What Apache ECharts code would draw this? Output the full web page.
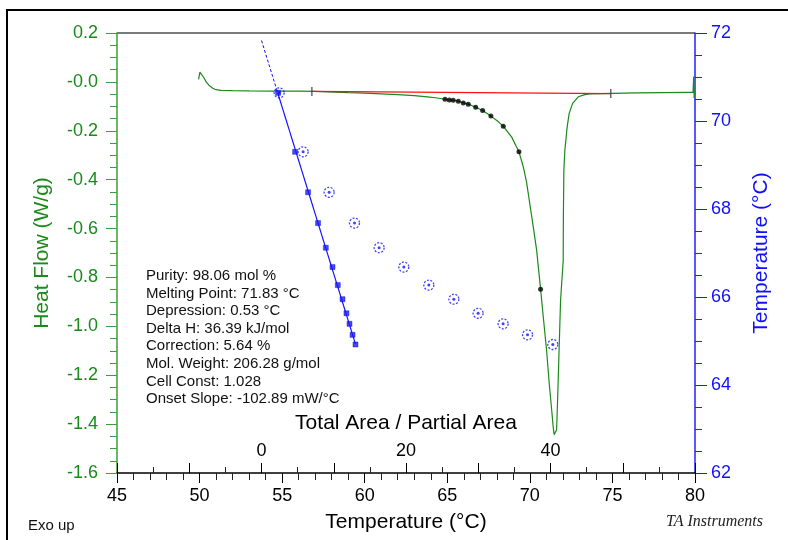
<!DOCTYPE html>
<html>
<head>
<meta charset="utf-8">
<script src="https://cdn.jsdelivr.net/npm/echarts@6/dist/echarts.min.js"></script>
<style>
  html, body { margin: 0; padding: 0; background: #fff; }
  #chart { width: 788px; height: 540px; }
</style>
</head>
<body>
<div id="chart"></div>
<script>
// DSC 纯度分析曲线 (热流 + 1/F 图)

// 热流曲线 [温度 °C, 热流 W/g]
const heatFlowCurve = [
  [49.94, 0.010], [50.02, 0.040], [50.08, 0.045], [50.14, 0.036], [50.25, 0.018],
  [50.4, 0.000], [50.6, -0.016], [50.8, -0.026], [51.0, -0.032], [51.3, -0.035],
  [52.0, -0.036], [53.0, -0.037], [54.5, -0.038], [56.0, -0.038], [57.0, -0.039],
  [58.2, -0.042], [59.0, -0.044], [60.0, -0.046], [61.0, -0.049], [62.0, -0.052],
  [63.0, -0.056], [63.8, -0.061], [64.4, -0.066], [64.86, -0.071], [65.12, -0.074],
  [65.36, -0.075], [65.67, -0.079], [65.97, -0.086], [66.27, -0.091], [66.72, -0.104],
  [67.14, -0.117], [67.64, -0.140], [68.0, -0.158], [68.39, -0.181], [68.9, -0.226],
  [69.34, -0.286], [69.6, -0.347], [69.8, -0.41], [70.0, -0.50], [70.2, -0.59],
  [70.41, -0.688], [70.65, -0.848], [70.81, -0.96], [71.01, -1.096], [71.17, -1.232],
  [71.32, -1.341], [71.41, -1.41], [71.47, -1.443], [71.55, -1.443], [71.62, -1.423],
  [71.68, -1.30], [71.77, -1.096], [71.86, -0.893], [71.95, -0.80], [72.02, -0.729],
  [72.03, -0.55], [72.06, -0.36], [72.12, -0.279], [72.26, -0.184], [72.38, -0.129],
  [72.59, -0.088], [72.93, -0.061], [73.33, -0.052], [73.63, -0.049], [75.0, -0.047],
  [76.5, -0.045], [78.0, -0.044], [79.69, -0.043], [79.88, -0.043], [79.92, 0.022],
  [79.95, -0.066], [79.98, -0.044]
];

// 积分基线 (两端)
const baselineT = [56.80, 74.90];
const baselineHF = [-0.039, -0.048];

// 部分面积点 (曲线上的黑点)
const partialT = [64.86, 65.12, 65.36, 65.67, 65.97, 66.27, 66.72, 67.14, 67.64, 68.39, 69.34, 70.65];
const partialHF = [-0.071, -0.074, -0.075, -0.079, -0.086, -0.091, -0.104, -0.117, -0.140, -0.181, -0.286, -0.848];

// 1/F 图: 样品温度 与 总面积/部分面积
const sampleT = [70.64, 69.30, 68.38, 67.68, 67.12, 66.68, 66.27, 65.95, 65.63, 65.39, 65.14, 64.92];
const areaCorrected = [2.30, 4.65, 6.45, 7.83, 8.90, 9.83, 10.56, 11.21, 11.76, 12.18, 12.60, 13.01];
const areaUncorrected = [2.44, 5.76, 9.36, 12.87, 16.28, 19.70, 23.16, 26.62, 29.98, 33.44, 36.82, 40.32];

// 拟合直线 (外推到 1/F = 0 即熔点)
const fitArea = [0, 2.30, 13.01];
const fitT = [71.83, 70.61, 64.93];

// 第二 x 轴上显示的刻度标签
const areaLabels = [0, 20, 40];

// 结果文字
const statsLines = [
  'Purity: 98.06 mol %',
  'Melting Point: 71.83 °C',
  'Depression: 0.53 °C',
  'Delta H: 36.39 kJ/mol',
  'Correction: 5.64 %',
  'Mol. Weight: 206.28 g/mol',
  'Cell Const: 1.028',
  'Onset Slope: -102.89 mW/°C'
];

const FONT = '"Liberation Sans", Arial, sans-serif';
const GREEN = '#1a8a1a';
const BLUE = '#1010ff';

const zip = (a, b) => a.map((v, i) => [v, b[i]]);

const myChart = echarts.init(document.getElementById('chart'));
const options = {
  animation: false,
  backgroundColor: '#fff',
  textStyle: { fontFamily: FONT },
  grid: { left: 117, right: 93, top: 33, bottom: 67, containLabel: false, outerBoundsMode: 'none' },
  xAxis: [
    {
      // 温度轴
      type: 'value', position: 'bottom', offset: 0,
      min: 45, max: 80, interval: 5,
      axisLine: { show: true, onZero: false, lineStyle: { color: '#000', width: 1.5 } },
      axisTick: { show: true, length: 10, lineStyle: { color: '#000' } },
      minorTick: { show: true, splitNumber: 5, length: 7, lineStyle: { color: '#222' } },
      splitLine: { show: false },
      axisLabel: { color: '#000', fontSize: 18, margin: 14, fontFamily: FONT },
      name: 'Temperature (°C)', nameLocation: 'middle', nameGap: 39, nameMoveOverlap: false,
      nameTextStyle: { color: '#000', fontSize: 21, fontFamily: FONT }
    },
    {
      // 总面积 / 部分面积 轴 (刻度朝内)
      type: 'value', position: 'bottom', offset: 0,
      min: -20, max: 60, interval: 10,
      axisLine: { show: false, onZero: false },
      axisTick: { show: true, inside: true, length: 10, lineStyle: { color: '#000' } },
      minorTick: { show: true, splitNumber: 2, length: 6, lineStyle: { color: '#222' } },
      splitLine: { show: false },
      axisLabel: {
        inside: true, margin: 13, color: '#000', fontSize: 18, fontFamily: FONT,
        formatter: v => areaLabels.indexOf(Math.round(v)) >= 0 ? String(Math.round(v)) : ''
      },
      name: 'Total Area / Partial Area', nameLocation: 'middle', nameGap: -60, nameMoveOverlap: false,
      nameTextStyle: { color: '#000', fontSize: 21, fontFamily: FONT }
    }
  ],
  yAxis: [
    {
      // 热流轴
      type: 'value', position: 'left', offset: 0,
      min: -1.6, max: 0.2, interval: 0.2,
      axisLine: { show: true, onZero: false, lineStyle: { color: '#3a9e3a', width: 1.5 } },
      axisTick: { show: true, length: 11, lineStyle: { color: '#3a9e3a' } },
      minorTick: { show: true, splitNumber: 4, length: 7, lineStyle: { color: '#3a9e3a' } },
      splitLine: { show: false },
      axisLabel: {
        color: GREEN, fontSize: 18, margin: 19, fontFamily: FONT,
        formatter: v => Math.abs(v) < 1e-9 ? '-0.0' : v.toFixed(1)
      },
      name: 'Heat Flow (W/g)', nameLocation: 'middle', nameGap: 64, nameRotate: 90, nameMoveOverlap: false,
      nameTextStyle: { color: GREEN, fontSize: 21, fontFamily: FONT }
    },
    {
      // 温度轴 (右)
      type: 'value', position: 'right', offset: 0,
      min: 62, max: 72, interval: 2,
      axisLine: { show: true, onZero: false, lineStyle: { color: '#2020ff', width: 1.5 } },
      axisTick: { show: true, length: 12, lineStyle: { color: '#2020ff' } },
      minorTick: { show: true, splitNumber: 4, length: 7, lineStyle: { color: '#2020ff' } },
      splitLine: { show: false },
      axisLabel: { color: BLUE, fontSize: 18, margin: 16, fontFamily: FONT },
      name: 'Temperature (°C)', nameLocation: 'middle', nameGap: 56, nameRotate: 90, nameMoveOverlap: false,
      nameTextStyle: { color: BLUE, fontSize: 21, fontFamily: FONT }
    }
  ],
  graphic: [
    // 外框
    { type: 'rect', shape: { x: 7, y: 10, width: 800, height: 560 }, style: { fill: 'none', stroke: '#000', lineWidth: 2 }, silent: true },
    // 顶部灰线
    { type: 'line', shape: { x1: 117, y1: 33, x2: 695, y2: 33 }, style: { stroke: '#7a7a7a', lineWidth: 2 }, silent: true },
    // 结果文字
    {
      type: 'text', left: 146, top: 267, silent: true,
      style: { text: statsLines.join('\n'), fill: '#111', fontSize: 15, lineHeight: 17.6, fontFamily: FONT }
    },
    { type: 'text', left: 28, top: 518, silent: true, style: { text: 'Exo up', fill: '#111', fontSize: 15, fontFamily: FONT } },
    {
      type: 'text', left: 666, top: 514, silent: true,
      style: { text: 'TA Instruments', fill: '#222', fontSize: 16, fontStyle: 'italic', fontFamily: '"Liberation Serif", "Times New Roman", serif' }
    }
  ],
  series: [
    {
      name: '热流', type: 'line', xAxisIndex: 0, yAxisIndex: 0,
      data: heatFlowCurve, showSymbol: false, z: 2,
      lineStyle: { color: GREEN, width: 1.2 }
    },
    {
      name: '基线', type: 'line', xAxisIndex: 0, yAxisIndex: 0,
      data: zip(baselineT, baselineHF), showSymbol: false, z: 3,
      lineStyle: { color: '#ff1010', width: 1.2 }
    },
    {
      name: '积分限', type: 'scatter', xAxisIndex: 0, yAxisIndex: 0,
      data: zip(baselineT, baselineHF), symbol: 'rect', symbolSize: [1.5, 9], z: 4,
      itemStyle: { color: '#444' }
    },
    {
      name: '部分面积', type: 'scatter', xAxisIndex: 0, yAxisIndex: 0,
      data: zip(partialT, partialHF), symbol: 'circle', symbolSize: 5, z: 5,
      itemStyle: { color: '#000' }
    },
    {
      name: '外推', type: 'line', xAxisIndex: 1, yAxisIndex: 1,
      data: zip(fitArea.slice(0, 2), fitT.slice(0, 2)), showSymbol: false, z: 6,
      lineStyle: { color: BLUE, width: 1, type: [3, 2] }
    },
    {
      name: '拟合', type: 'line', xAxisIndex: 1, yAxisIndex: 1,
      data: zip(fitArea.slice(1), fitT.slice(1)), showSymbol: false, z: 6,
      lineStyle: { color: BLUE, width: 1.2 }
    },
    {
      name: '修正后', type: 'scatter', xAxisIndex: 1, yAxisIndex: 1,
      data: zip(areaCorrected, sampleT), symbol: 'rect', symbolSize: 5, z: 7,
      itemStyle: { color: '#1a1aff', borderColor: '#0000c0', borderWidth: 0.5 }
    },
    {
      name: '修正前', type: 'scatter', xAxisIndex: 1, yAxisIndex: 1,
      data: zip(areaUncorrected, sampleT), symbol: 'circle', symbolSize: 10, z: 7,
      itemStyle: { color: 'rgba(255,255,255,0)', borderColor: BLUE, borderWidth: 1.3, borderType: [2, 1.5] }
    },
    {
      name: '修正前中心', type: 'scatter', xAxisIndex: 1, yAxisIndex: 1,
      data: zip(areaUncorrected, sampleT), symbol: 'circle', symbolSize: 3, z: 7,
      itemStyle: { color: BLUE }
    }
  ]
};
myChart.setOption(options);
</script>
</body>
</html>
